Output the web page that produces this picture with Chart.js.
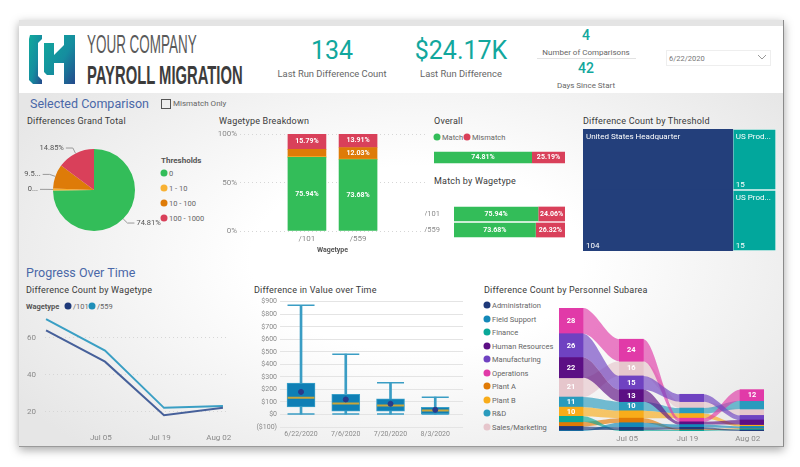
<!DOCTYPE html>
<html>
<head>
<meta charset="utf-8">
<title>Payroll Migration</title>
<script src="https://cdn.jsdelivr.net/npm/chart.js@4"></script>
<style>
html,body{margin:0;padding:0;background:#fff;width:800px;height:467px;overflow:hidden;font-family:Roboto,sans-serif}
#card{position:absolute;left:19px;top:20px;width:764px;height:426px;border-right:1px solid #8a8a8a;border-bottom:1px solid #9a9a9a;box-shadow:0 3px 9px rgba(0,0,0,.35);background:radial-gradient(ellipse 62% 62% at 52% 56%,#fff 35%,#e6e6e6 100%)}
#top{position:absolute;left:19px;top:26px;width:764px;height:67px;background:#fff}
#strip{position:absolute;left:19px;top:20px;width:764px;height:6px;background:#e4e4e4}
.t{position:absolute;white-space:nowrap;transform:translateY(-50%);color:#555}
.c{transform:translate(-50%,-50%)}
.kpi{color:#12a79d}
.head{font-size:9px;color:#3a3a3a;letter-spacing:.2px}
.sec{font-size:12.5px;color:#4a68a8}
.sub{font-size:9.4px;color:#666}
.small{font-size:8px;color:#666}
.leg{font-size:7.5px;color:#666}
.dot{position:absolute;width:7px;height:7px;border-radius:50%;transform:translate(-50%,-50%)}
canvas{position:absolute}
</style>
</head>
<body>
<div id="card"></div>
<div id="strip"></div>
<div id="top"></div>

<svg style="position:absolute;left:29px;top:35px" width="47" height="50" viewBox="0 0 47 50">
  <defs>
    <linearGradient id="lg" x1="0" y1="0" x2="1" y2="1"><stop offset="0" stop-color="#12a99c"/><stop offset=".55" stop-color="#158d9f"/><stop offset="1" stop-color="#25498c"/></linearGradient>
  </defs>
  <path fill="url(#lg)" d="M1 0H13V4L9 8V41L13 45V49H4L0 45V4Z"/>
  <path fill="url(#lg)" d="M15 8H25V20L35 10V0H46V49H35V28H25V40H18L15 37Z"/>
</svg>
<div class="t" style="left:87px;top:44px;font:25px 'Liberation Sans',Roboto;color:#5a5a5a;transform-origin:left center;transform:translateY(-50%) scaleX(.538)">YOUR COMPANY</div>
<div class="t" style="left:87px;top:75px;font:bold 25px 'Liberation Sans',Roboto;color:#3c3c3c;transform-origin:left center;transform:translateY(-50%) scaleX(.592)">PAYROLL MIGRATION</div>

<div class="t c kpi" style="left:332px;top:50px;font-size:25px">134</div>
<div class="t c sub" style="left:332px;top:73px">Last Run Difference Count</div>
<div class="t c kpi" style="left:461px;top:50px;font-size:25px">$24.17K</div>
<div class="t c sub" style="left:461px;top:73px">Last Run Difference</div>
<div class="t c kpi" style="left:586px;top:35px;font-size:14px;font-weight:500">4</div>
<div class="t c small" style="left:586px;top:52px">Number of Comparisons</div>
<div style="position:absolute;left:537px;top:58px;width:99px;height:1px;background:#e2e2e2"></div>
<div class="t c kpi" style="left:586px;top:68px;font-size:14px;font-weight:500">42</div>
<div class="t c small" style="left:586px;top:85px">Days Since Start</div>
<div style="position:absolute;left:666px;top:50px;width:103px;height:14px;border:1px solid #eee"></div>
<div class="t" style="left:669px;top:58px;font-size:7.5px;color:#777">6/22/2020</div>
<svg style="position:absolute;left:757px;top:54px" width="10" height="7"><path d="M1 1L5 5L9 1" fill="none" stroke="#999"/></svg>

<div class="t sec" style="left:30px;top:103px">Selected Comparison</div>
<div style="position:absolute;left:161px;top:99px;width:8px;height:8px;border:1px solid #555"></div>
<div class="t" style="left:173px;top:103px;font-size:8px;color:#666">Mismatch Only</div>
<div class="t head" style="left:27px;top:121px">Differences Grand Total</div>
<div class="t head" style="left:219px;top:121px">Wagetype Breakdown</div>
<div class="t head" style="left:434px;top:121px">Overall</div>
<div class="t head" style="left:434px;top:181px">Match by Wagetype</div>
<div class="t head" style="left:583px;top:121px">Difference Count by Threshold</div>
<div class="t sec" style="left:26px;top:272px">Progress Over Time</div>
<div class="t head" style="left:26px;top:290px">Difference Count by Wagetype</div>
<div class="t head" style="left:254px;top:290px">Difference in Value over Time</div>
<div class="t head" style="left:484px;top:290px">Difference Count by Personnel Subarea</div>

<div class="t" style="left:161px;top:160px;font-size:8px;font-weight:700;color:#555">Thresholds</div>
<div id="legendThresholds"></div>
<div id="legendOverall"></div>
<div class="t" style="left:26px;top:306px;font-size:7.5px;font-weight:700;color:#555">Wagetype</div>
<div id="legendLines"></div>
<div id="legendRibbon"></div>

<canvas id="pieChart" style="left:24px;top:135px" width="170" height="105"></canvas>
<canvas id="stackChart" style="left:205px;top:126px" width="225" height="128"></canvas>
<canvas id="overallChart" style="left:434px;top:151px" width="131" height="13"></canvas>
<canvas id="matchChart" style="left:425px;top:206px" width="140" height="32"></canvas>
<canvas id="treeChart" style="left:583px;top:129px" width="193" height="122"></canvas>
<canvas id="lineChart" style="left:20px;top:310px" width="215" height="136"></canvas>
<canvas id="boxChart" style="left:250px;top:296px" width="220" height="148"></canvas>
<canvas id="ribbonChart" style="left:559px;top:308px" width="205" height="138"></canvas>

<script>
const thresholds = ["0", "1 - 10", "10 - 100", "100 - 1000"];
const thresholdColors = ["#33bd59", "#f8b133", "#de7b08", "#d9405a"];
const pieValues = [74.81, 0.81, 9.53, 14.85];
const pieTexts = ["74.81%", "0...", "9.5...", "14.85%"];

const wagetypes = ["/101", "/559"];
const wagetypeColors = ["#1f3a7a", "#1f8fb8"];
const breakdownTicks = [0, 50, 100];
const breakdownValues = [[75.94, 73.68], [0.8, 0.38], [7.47, 12.03], [15.79, 13.91]];
const breakdownTexts = [["75.94%", "73.68%"], ["", ""], ["", "12.03%"], ["15.79%", "13.91%"]];

const overallNames = ["Match", "Mismatch"];
const overallColors = ["#33bd59", "#d9405a"];
const overallMatch = [74.81];
const overallMismatch = [25.19];
const matchByType = [75.94, 73.68];
const mismatchByType = [24.06, 26.32];

const treeNames = ["United States Headquarter", "US Prod...", "US Prod..."];
const treeValues = [104, 15, 15];

const lineDays = [0, 14, 28, 42];
const line101 = [64, 47, 18, 22];
const line559 = [70, 53, 22, 23];
const lineYTicks = [20, 40, 60];
const dateTickDays = [13, 27, 41];
const dateTickLabels = ["Jul 05", "Jul 19", "Aug 02"];

const boxDates = ["6/22/2020", "7/6/2020", "7/20/2020", "8/3/2020"];
const boxYTicks = [-100, 0, 100, 200, 300, 400, 500, 600, 700, 800, 900];
const boxLow = [3, 3, 3, 3];
const boxQ1 = [60, 27, 27, 3];
const boxMedian = [133, 88, 72, 32];
const boxMean = [180, 120, 85, 37];
const boxQ3 = [250, 160, 125, 56];
const boxHigh = [872, 481, 253, 138];

const subareas = ["Administration", "Field Support", "Finance", "Human Resources", "Manufacturing", "Operations", "Plant A", "Plant B", "R&D", "Sales/Marketing"];
const subareaColors = ["#1f3a7a", "#1488b8", "#0aa898", "#5c0f84", "#6f42c1", "#e13aa8", "#e07a05", "#f8ac1a", "#2a9bbd", "#e6c6cc"];
const subareaCounts = [
  [4, 3, 2, 1],
  [1, 5, 3, 2],
  [6, 1, 1, 1],
  [22, 13, 3, 5],
  [26, 15, 8, 5],
  [28, 24, 4, 12],
  [5, 5, 1, 1],
  [10, 8, 5, 2],
  [11, 10, 6, 9],
  [21, 16, 7, 7]
];

Chart.defaults.font.family = "Roboto";
Chart.defaults.animation = false;
Chart.defaults.responsive = false;
Chart.defaults.layout.autoPadding = false;
Chart.defaults.plugins.legend.display = false;
Chart.defaults.plugins.tooltip.enabled = false;

function dotLegend(boxId, items) {
  document.getElementById(boxId).innerHTML = items.map(i =>
    `<span class="dot" style="left:${i.x}px;top:${i.y}px;background:${i.color}"></span>` +
    `<span class="t leg" style="left:${i.x + 5}px;top:${i.y}px">${i.text.replace("&", "&amp;")}</span>`).join("");
}
dotLegend("legendThresholds", thresholds.map((t, i) => ({ text: t, color: thresholdColors[i], x: 164, y: 173 + i * 15 })));
dotLegend("legendOverall", overallNames.map((t, i) => ({ text: t, color: overallColors[i], x: 437 + i * 30, y: 137 })));
dotLegend("legendLines", wagetypes.map((t, i) => ({ text: t, color: wagetypeColors[i], x: 68 + i * 24, y: 306 })));
dotLegend("legendRibbon", subareas.map((t, i) => ({ text: t, color: subareaColors[i], x: 487, y: 305 + i * 13.55 })));

// fixed axis thickness, and no extra room reserved for half of the end tick labels
function pinAxis(size) {
  return a => {
    if (a.isHorizontal()) a.height = size; else a.width = size;
    a.paddingTop = a.paddingBottom = a.paddingLeft = a.paddingRight = 0;
    a._margins = { left: 0, right: 0, top: 0, bottom: 0 };
  };
}

// white value text on top of bars, read from each dataset's markText
const barLabels = {
  id: "barLabels",
  afterDatasetsDraw(chart) {
    const ctx = chart.ctx;
    chart.data.datasets.forEach((ds, i) => {
      if (!ds.markText) return;
      chart.getDatasetMeta(i).data.forEach((el, j) => {
        if (!ds.markText[j]) return;
        const p = el.getCenterPoint();
        ctx.save();
        ctx.font = ds.markFont || "bold 7px Roboto";
        ctx.fillStyle = "#fff";
        ctx.textAlign = "center";
        ctx.textBaseline = "middle";
        ctx.fillText(ds.markText[j], p.x, p.y);
        ctx.restore();
      });
    });
  }
};

const pieLeaders = {
  id: "pieLeaders",
  afterDatasetsDraw(chart) {
    const ctx = chart.ctx;
    chart.getDatasetMeta(0).data.forEach((arc, i) => {
      const mid = (arc.startAngle + arc.endAngle) / 2;
      const ex = arc.x + Math.cos(mid) * arc.outerRadius, ey = arc.y + Math.sin(mid) * arc.outerRadius;
      const ox = arc.x + Math.cos(mid) * (arc.outerRadius + 6), oy = arc.y + Math.sin(mid) * (arc.outerRadius + 6);
      const dir = Math.cos(mid) >= 0 ? 1 : -1;
      ctx.save();
      ctx.strokeStyle = "#999";
      ctx.beginPath(); ctx.moveTo(ex, ey); ctx.lineTo(ox, oy); ctx.lineTo(ox + dir * 7, oy); ctx.stroke();
      ctx.fillStyle = "#555";
      ctx.font = "7.5px Roboto";
      ctx.textAlign = dir > 0 ? "left" : "right";
      ctx.textBaseline = "middle";
      ctx.fillText(pieTexts[i], ox + dir * 9, oy);
      ctx.restore();
    });
  }
};

const treeLabels = {
  id: "treeLabels",
  afterDatasetsDraw(chart) {
    const ctx = chart.ctx, hq = chart.getDatasetMeta(0).data, prod = chart.getDatasetMeta(1).data;
    const cells = [
      { left: hq[0].base, top: 0, bottom: chart.height, i: 0 },
      { left: prod[0].base, top: 0, bottom: chart.height / 2, i: 1 },
      { left: prod[1].base, top: chart.height / 2, bottom: chart.height, i: 2 }
    ];
    ctx.save();
    ctx.fillStyle = "#fff";
    ctx.textBaseline = "middle";
    ctx.font = "8px Roboto";
    cells.forEach(c => {
      ctx.fillText(treeNames[c.i], c.left + 3, c.top + 8);
      ctx.fillText(treeValues[c.i], c.left + 3, c.bottom - 5);
    });
    ctx.restore();
  }
};

new Chart(document.getElementById("pieChart"), {
  type: "pie",
  data: { labels: thresholds, datasets: [{ data: pieValues, backgroundColor: thresholdColors, borderWidth: 0 }] },
  options: { layout: { padding: { left: 29, right: 59, top: 14, bottom: 9 } } },
  plugins: [pieLeaders]
});

const tickFont = { size: 8 }, tickColor = "#8a8a8a";

// linear x axis whose ticks only sit on the given values
function fixedTicksX(values, labels, size, extra) {
  return Object.assign({
    type: "linear",
    offset: false,
    grid: { display: false, drawTicks: false },
    border: { display: false },
    afterBuildTicks: axis => { axis.ticks = values.map(v => ({ value: v })); },
    afterFit: pinAxis(size),
    ticks: { autoSkip: false, maxRotation: 0, font: tickFont, color: tickColor, padding: 3, callback: v => labels[values.indexOf(v)] }
  }, extra);
}

new Chart(document.getElementById("stackChart"), {
  type: "bar",
  data: {
    datasets: breakdownValues.map((vals, s) => ({
      data: vals.map((v, i) => ({ x: i, y: v })),
      backgroundColor: thresholdColors[s],
      barThickness: 38,
      markText: breakdownTexts[s]
    }))
  },
  options: {
    layout: { padding: { top: 8, right: 5 } },
    scales: {
      x: fixedTicksX([0, 1], wagetypes, 23, {
        stacked: true, min: -1.31, max: 2.31,
        title: { display: true, text: "Wagetype", font: { size: 7, weight: "bold" }, color: "#555", padding: 0 }
      }),
      y: {
        stacked: true, min: 0, max: 100,
        afterFit: pinAxis(35),
        afterBuildTicks: a => { a.ticks = breakdownTicks.map(v => ({ value: v })); },
        grid: { color: "#d6d6d6", drawTicks: false },
        border: { display: false, dash: [1, 3] },
        ticks: { font: tickFont, color: tickColor, padding: 3, callback: v => v + "%" }
      }
    }
  },
  plugins: [barLabels]
});

new Chart(document.getElementById("overallChart"), {
  type: "bar",
  data: {
    labels: ["Overall"],
    datasets: [
      { data: overallMatch, backgroundColor: overallColors[0], markText: ["74.81%"] },
      { data: overallMismatch, backgroundColor: overallColors[1], markText: ["25.19%"] }
    ]
  },
  options: {
    indexAxis: "y", barPercentage: 0.9, categoryPercentage: 1,
    scales: { x: { display: false, stacked: true, min: 0, max: 100 }, y: { display: false, stacked: true } }
  },
  plugins: [barLabels]
});

new Chart(document.getElementById("matchChart"), {
  type: "bar",
  data: {
    labels: wagetypes,
    datasets: [
      { data: matchByType, backgroundColor: overallColors[0], markText: ["75.94%", "73.68%"] },
      { data: mismatchByType, backgroundColor: overallColors[1], markText: ["24.06%", "26.32%"] }
    ]
  },
  options: {
    indexAxis: "y", barPercentage: 0.92, categoryPercentage: 1,
    scales: {
      x: { display: false, stacked: true, min: 0, max: 100 },
      y: {
        stacked: true, grid: { display: false }, border: { display: false },
        afterFit: pinAxis(29),
        ticks: { font: { size: 7.5 }, color: tickColor, padding: 6 }
      }
    }
  },
  plugins: [barLabels]
});

const treeTotal = treeValues.reduce((a, b) => a + b, 0);
new Chart(document.getElementById("treeChart"), {
  type: "bar",
  data: {
    labels: ["upper", "lower"],
    datasets: [
      { data: [[0, treeValues[0]], [0, treeValues[0]]], backgroundColor: "#233f7b" },
      { data: [[treeValues[0], treeTotal], [treeValues[0], treeTotal]], backgroundColor: "#02a79c", borderColor: "#e6f3f2", borderWidth: 1, borderSkipped: false }
    ]
  },
  options: {
    indexAxis: "y", barPercentage: 1, categoryPercentage: 1,
    datasets: { bar: { grouped: false } },
    scales: { x: { display: false, min: 0, max: treeTotal }, y: { display: false } }
  },
  plugins: [treeLabels]
});

new Chart(document.getElementById("lineChart"), {
  type: "line",
  data: {
    datasets: [
      { data: lineDays.map((d, i) => ({ x: d, y: line101[i] })), borderColor: "#46609a", borderWidth: 2, pointRadius: 0, tension: 0 },
      { data: lineDays.map((d, i) => ({ x: d, y: line559[i] })), borderColor: "#3a9fc4", borderWidth: 2, pointRadius: 0, tension: 0 }
    ]
  },
  options: {
    layout: { padding: { right: 7 } },
    scales: {
      x: fixedTicksX(dateTickDays, dateTickLabels, 16, { min: -0.25, max: 43.2 }),
      y: {
        min: 10, max: 75,
        afterFit: pinAxis(25),
        afterBuildTicks: a => { a.ticks = lineYTicks.map(v => ({ value: v })); },
        grid: { color: "#d6d6d6", drawTicks: false },
        border: { display: false, dash: [1, 3] },
        ticks: { font: tickFont, color: tickColor, padding: 9 }
      }
    }
  }
});

const boxX = boxDates.map((d, i) => i);
function boxPoints(vals) { return vals.map((v, i) => ({ x: i, y: v })); }
function boxMarks(vals, color, radius, width, order, style) {
  return { type: "line", data: boxPoints(vals), showLine: false, pointStyle: style, pointRadius: radius, pointBorderColor: color, pointBackgroundColor: color, pointBorderWidth: width, order };
}
new Chart(document.getElementById("boxChart"), {
  type: "bar",
  data: {
    datasets: [
      boxMarks(boxMean, "#2a3a8a", 2.5, 1, 0, "circle"),
      boxMarks(boxMedian, "#c9a53a", 13.5, 2, 1, "line"),
      boxMarks(boxHigh, "#3a9dc4", 13.5, 1.5, 2, "line"),
      boxMarks(boxLow, "#3a9dc4", 13.5, 1.5, 2, "line"),
      { data: boxQ1.map((q, i) => ({ x: i, y: [q, boxQ3[i]] })), backgroundColor: "#0f7fb5", borderColor: "#3aa0c8", borderWidth: 1, borderSkipped: false, barThickness: 28, grouped: false, order: 3 },
      { data: boxLow.map((l, i) => ({ x: i, y: [l, boxHigh[i]] })), backgroundColor: "#3a9dc4", barThickness: 2, grouped: false, order: 4 }
    ]
  },
  options: {
    layout: { padding: { top: 5.7, right: 7 } },
    scales: {
      x: fixedTicksX(boxX, boxDates, 17, { min: -0.47, max: 3.62, ticks: { autoSkip: false, maxRotation: 0, font: { size: 7 }, color: tickColor, padding: 3, callback: v => boxDates[v] } }),
      y: {
        min: -100, max: 900,
        afterFit: pinAxis(30),
        afterBuildTicks: a => { a.ticks = boxYTicks.map(v => ({ value: v })); },
        grid: { color: "#e4e4e4", drawTicks: false },
        border: { display: false },
        ticks: { autoSkip: false, font: { size: 7 }, color: tickColor, padding: 3, callback: v => v < 0 ? "($" + (-v) + ")" : "$" + v }
      }
    }
  }
});

// ribbons: at every date the subareas are stacked biggest on top
const ribbonEdges = subareas.map(() => ({ top: [], bottom: [] }));
lineDays.forEach((day, t) => {
  const ranked = subareas.map((s, i) => i).sort((a, b) => subareaCounts[a][t] - subareaCounts[b][t] || a - b);
  let base = 0;
  ranked.forEach(i => {
    ribbonEdges[i].bottom.push(base);
    base += subareaCounts[i][t];
    ribbonEdges[i].top.push(base);
  });
});
const columnHalf = 2.79;
function ribbonLine(edge) {
  return lineDays.flatMap((d, t) => [{ x: d - columnHalf, y: edge[t] }, { x: d + columnHalf, y: edge[t] }]);
}
const ribbonSets = [];
subareas.forEach((name, s) => {
  ribbonSets.push({ type: "line", data: ribbonLine(ribbonEdges[s].top), borderWidth: 0, pointRadius: 0, cubicInterpolationMode: "monotone", fill: false, order: 5 });
  ribbonSets.push({ type: "line", data: ribbonLine(ribbonEdges[s].bottom), borderWidth: 0, pointRadius: 0, cubicInterpolationMode: "monotone", fill: "-1", backgroundColor: subareaColors[s] + "a6", order: 5 });
});
subareas.forEach((name, s) => {
  ribbonSets.push({
    type: "bar",
    data: lineDays.map((d, t) => ({ x: d, y: [ribbonEdges[s].bottom[t], ribbonEdges[s].top[t]] })),
    backgroundColor: subareaColors[s],
    barThickness: 24,
    grouped: false,
    order: 1,
    markText: subareaCounts[s].map(v => v >= 10 ? String(v) : ""),
    markFont: "bold 7.5px Roboto"
  });
});
new Chart(document.getElementById("ribbonChart"), {
  data: { datasets: ribbonSets },
  options: {
    scales: {
      x: fixedTicksX(dateTickDays, dateTickLabels, 15, { min: -columnHalf, max: 42 + columnHalf }),
      y: { display: false, min: 0, max: 134 }
    }
  },
  plugins: [barLabels]
});
</script>
</body>
</html>
